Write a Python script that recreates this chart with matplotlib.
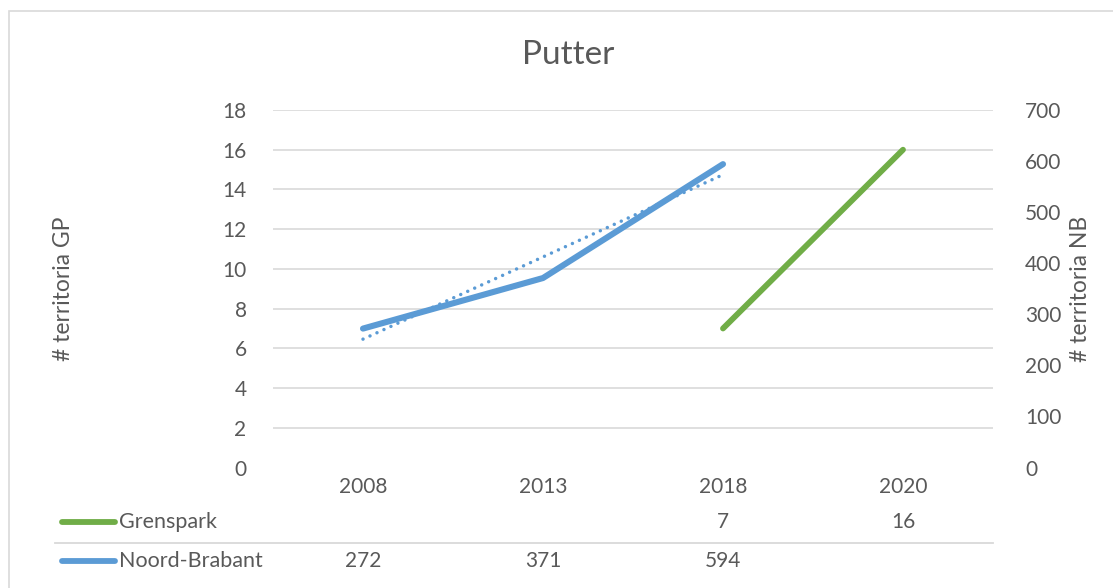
import matplotlib.pyplot as plt
import matplotlib.transforms as mtransforms
from matplotlib.patches import Rectangle
import numpy as np

plt.rcParams['font.family'] = ['Lato', 'DejaVu Sans']

# data
jaren = ['2008', '2013', '2018', '2020']
grenspark = [np.nan, np.nan, 7, 16]
noord_brabant = [272, 371, 594, np.nan]
gp_tekst = ['', '', '7', '16']
nb_tekst = ['272', '371', '594', '']

grijs = '#595959'
raster = '#D9D9D9'
blauw = '#5B9BD5'
groen = '#70AD47'
fs = 15

fig = plt.figure(figsize=(11.13, 5.88), dpi=100)
fig.patch.set_facecolor('white')

# rand van de grafiek
fig.patches.append(Rectangle((8.5 / 1113, -0.1), 1.2, 1 - 11.5 / 588 + 0.1,
                             transform=fig.transFigure, fill=False,
                             edgecolor=raster, linewidth=1.2))

ax = fig.add_axes([273 / 1113, 1 - 467.5 / 588, 720 / 1113, 357.5 / 588])
ax2 = ax.twinx()

x = np.arange(len(jaren))

# Grenspark op linker as
ax.plot(x, grenspark, color=groen, linewidth=4.2, solid_capstyle='round', zorder=3)
ax.set_ylim(0, 18)
ax.set_yticks(range(0, 19, 2))
ax.set_xlim(-0.5, 3.5)
ax.set_xticks([])
for v in range(2, 19, 2):
    ax.axhline(v, color=raster, linewidth=1.2, zorder=0)

# Noord-Brabant op rechter as + lineaire trendlijn
ax2.plot(x, noord_brabant, color=blauw, linewidth=4.4, solid_capstyle='round',
         solid_joinstyle='round', zorder=3)
xs = x[:3]
coef = np.polyfit(xs, noord_brabant[:3], 1)
ax2.plot(xs, np.polyval(coef, xs), color=blauw, linewidth=2.5,
         linestyle=(0, (0.01, 2.2)), dash_capstyle='round', zorder=4)
ax2.set_ylim(0, 700)
ax2.set_yticks(range(0, 701, 100))

for a in (ax, ax2):
    for s in a.spines.values():
        s.set_visible(False)
    a.tick_params(axis='y', length=0, labelsize=fs, colors=grijs)
ax.tick_params(axis='y', pad=19)
ax2.tick_params(axis='y', pad=23)

ax.set_ylabel('# territoria GP', fontsize=16.5, color=grijs)
ax.yaxis.set_label_coords((74 - 273) / 720, 0.5)
ax2.set_ylabel('# territoria NB', fontsize=16.5, color=grijs)
ax2.yaxis.set_label_coords((1070 - 273) / 720, 0.5)

fig.text(568 / 1113, 1 - 55 / 588, 'Putter', fontsize=24, color=grijs,
         ha='center', va='center')

# datatabel onder de grafiek
trans = mtransforms.blended_transform_factory(ax.transData, fig.transFigure)
y_jaar = 1 - 487 / 588
y_gp = 1 - 522 / 588
y_nb = 1 - 561 / 588
for i, j in enumerate(jaren):
    ax.text(i, y_jaar, j, transform=trans, ha='center', va='center',
            fontsize=fs, color=grijs, clip_on=False)
    ax.text(i, y_gp, gp_tekst[i], transform=trans, ha='center', va='center',
            fontsize=fs, color=grijs, clip_on=False)
    ax.text(i, y_nb, nb_tekst[i], transform=trans, ha='center', va='center',
            fontsize=fs, color=grijs, clip_on=False)

fig.add_artist(plt.Line2D([55 / 1113, 993 / 1113], [1 - 542.5 / 588] * 2,
                          transform=fig.transFigure, color=raster, linewidth=1.3))

for naam, kleur, yy in [('Grenspark', groen, y_gp), ('Noord-Brabant', blauw, y_nb)]:
    fig.add_artist(plt.Line2D([62 / 1113, 115 / 1113], [yy, yy],
                              transform=fig.transFigure, color=kleur,
                              linewidth=4.2, solid_capstyle='round'))
    fig.text(119 / 1113, yy, naam, fontsize=15.5, color=grijs, ha='left', va='center')

fig.savefig('out.png', dpi=100, facecolor='white')
